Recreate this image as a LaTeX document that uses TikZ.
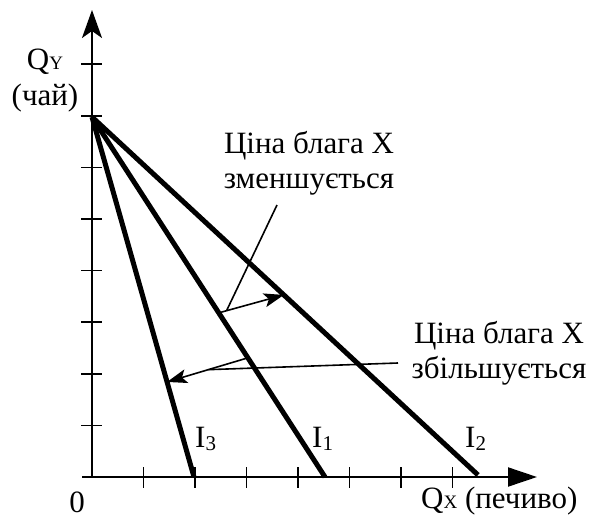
\documentclass[tikz,border=0pt]{standalone}
\usepackage{fontspec}
\setmainfont{Liberation Serif}
\usetikzlibrary{arrows.meta,calc}
\newcommand{\sbs}[1]{{\fontsize{19}{19}\selectfont #1}}
\newcommand{\sbn}[1]{\raisebox{-3pt}{\fontsize{21}{21}\selectfont #1}}
\begin{document}
\begin{tikzpicture}[x=1pt,y=-1pt,
  axis/.style={line width=2pt},
  tickmark/.style={line width=1.7pt},
  budget/.style={line width=5pt},
  leader/.style={line width=1.6pt},
  shiftarrow/.style={line width=1.6pt,-{Stealth[length=20pt,width=14pt,inset=4.5pt]}},
  lbl/.style={inner sep=0pt,font=\fontsize{31}{35.5}\selectfont}]
\useasboundingbox (0,0) rectangle (589,522);
\coordinate (O) at (92,477);
\coordinate (xs) at (82,477);
\coordinate (xe) at (537,477);
\coordinate (ye) at (92,10);
\draw[axis,-{Triangle[length=29pt,width=19pt]}] (xs) -- (xe);
\draw[axis,-{Stealth[length=28pt,width=20pt,inset=7pt]}] (O) -- (ye);
\foreach \i in {1,...,7} { \draw[tickmark] (92+51.5*\i,467) -- (92+51.5*\i,488); }
\foreach \i in {1,...,8} { \draw[tickmark] (81,477-51.6*\i) -- (102,477-51.6*\i); }
\coordinate (T) at (92,117);
\coordinate (e3) at (194,477);
\coordinate (e1) at (325,477);
\coordinate (e2) at (478,475);
\draw[budget] (T) -- (e3);
\draw[budget] (T) -- (e1);
\draw[budget] (T) -- (e2);
\coordinate (a1) at ($(T)!0.544!(e1)$);
\coordinate (a2) at ($(T)!0.497!(e2)$);
\draw[shiftarrow] (a1) -- (a2);
\coordinate (la) at ($(a1)!0.12!(a2)$);
\coordinate (ls1) at (277,205);
\draw[leader] (ls1) -- (la);
\coordinate (b1) at ($(T)!0.669!(e1)$);
\coordinate (b2) at ($(T)!0.736!(e3)$);
\draw[shiftarrow] (b1) -- (b2);
\coordinate (lb) at ($(b1)!0.49!(b2)$);
\coordinate (ls2) at (398,363);
\draw[leader] (ls2) -- (lb);
\node[lbl, align=center, anchor=north] (dec) at (309,131) {Ціна блага X\\зменшується};
\node[lbl, align=center, anchor=north] (inc) at (499,321) {Ціна блага X\\збільшується};
\node[lbl, align=center, anchor=north] (qy) at (45,49) {Q\sbs{Y}\\(чай)};
\node[lbl, anchor=base] (zero) at (77,512) {0};
\node[lbl, anchor=base west] (qx) at (421,508) {Q\sbs{X} (печиво)};
\node[lbl, anchor=base west] (l3) at (195,447) {I\sbn{3}};
\node[lbl, anchor=base west] (l1) at (312,447) {I\sbn{1}};
\node[lbl, anchor=base west] (l2) at (465,447) {I\sbn{2}};
\end{tikzpicture}
\end{document}
